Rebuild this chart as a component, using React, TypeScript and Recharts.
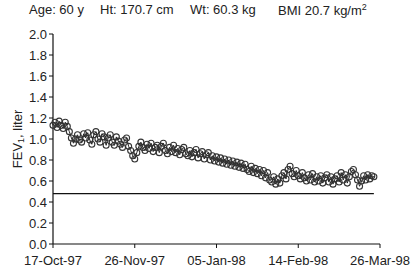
import React from 'react';
import { LineChart, Line, XAxis, YAxis, ReferenceLine } from 'recharts';

// FEV1 readings, one per day starting 17-Oct-97
const fev1 = [
  1.13, 1.16, 1.11, 1.17, 1.13, 1.1, 1.16, 1.12, 1.07, 1.01,
  0.96, 1.0, 1.04, 0.99, 0.97, 1.05, 1.01, 1.06, 0.99, 0.95,
  1.04, 1.07, 1.0, 0.97, 1.05, 1.02, 0.94, 1.01, 1.04, 0.97,
  0.94, 1.02, 0.98, 0.95, 0.92, 0.99, 1.01, 0.93, 0.89, 0.84,
  0.81, 0.87, 0.93, 0.97, 0.92, 0.89, 0.95, 0.91, 0.96, 0.88,
  0.92, 0.94, 0.87, 0.93, 0.96, 0.89, 0.86, 0.92, 0.88, 0.94,
  0.87, 0.91, 0.85, 0.9, 0.92, 0.86, 0.84, 0.89, 0.83, 0.87,
  0.9, 0.82, 0.86, 0.88, 0.81, 0.85, 0.87, 0.8, 0.84, 0.79,
  0.83, 0.78, 0.82, 0.77, 0.81, 0.76, 0.8, 0.75, 0.79, 0.74,
  0.78, 0.73, 0.77, 0.72, 0.76, 0.71, 0.69, 0.74, 0.68, 0.72,
  0.67, 0.71, 0.65, 0.7, 0.63, 0.68, 0.61, 0.59, 0.64, 0.57,
  0.62, 0.58, 0.65, 0.68, 0.62, 0.71, 0.74, 0.67, 0.64, 0.7,
  0.65, 0.62, 0.68, 0.63, 0.6, 0.66, 0.61, 0.67, 0.59, 0.64,
  0.6, 0.65, 0.58, 0.63, 0.66, 0.59, 0.64, 0.57, 0.62, 0.65,
  0.59, 0.68, 0.61, 0.66, 0.58, 0.64, 0.69, 0.71, 0.66, 0.61,
  0.55, 0.6, 0.65, 0.61, 0.66, 0.62, 0.65, 0.64,
];

const dateTicks = [0, 40, 80, 120, 160];
const dateLabels = ['17-Oct-97', '26-Nov-97', '05-Jan-98', '14-Feb-98', '26-Mar-98'];
const yTicks = [0, 0.2, 0.4, 0.6, 0.8, 1.0, 1.2, 1.4, 1.6, 1.8, 2.0];
const threshold = [0.48];
const thresholdEnd = 157;

const data = fev1.map((v, i) => ({ day: i, fev: v }));

const font = '"Liberation Sans", Arial, sans-serif';

const YLabel = () => (
  <text
    x={17}
    y={139}
    transform="rotate(-90 17 139)"
    textAnchor="middle"
    dominantBaseline="central"
    fontSize={13}
    fontFamily={font}
    fill="#222"
  >
    FEV
    <tspan fontSize={9} dy={4}>1</tspan>
    <tspan dy={-4}>, liter</tspan>
  </text>
);

const App: React.FC = () => {
  return (
    <div style={{ position: 'absolute', left: 0, top: 0, width: 420, height: 278, background: '#fff', fontFamily: font }}>
      <div style={{ position: 'absolute', top: 2, left: 0, width: 420, fontSize: 13, color: '#222', whiteSpace: 'pre' }}>
        <span style={{ position: 'absolute', left: 29 }}>Age: 60 y</span>
        <span style={{ position: 'absolute', left: 100 }}>Ht: 170.7 cm</span>
        <span style={{ position: 'absolute', left: 190 }}>Wt: 60.3 kg</span>
        <span style={{ position: 'absolute', left: 278 }}>
          BMI 20.7 kg/m<sup style={{ fontSize: 9 }}>2</sup>
        </span>
      </div>
      <LineChart width={420} height={278} data={data} margin={{ top: 34, right: 40, bottom: 4, left: 8 }}>
        <XAxis
          dataKey="day"
          type="number"
          domain={[0, 160]}
          ticks={dateTicks}
          tickFormatter={(v: number) => dateLabels[dateTicks.indexOf(v)]}
          axisLine={{ stroke: '#111', strokeWidth: 1.2 }}
          tickLine={{ stroke: '#111' }}
          tickSize={4}
          tick={{ fontSize: 13, fill: '#222', fontFamily: font, dy: 6 }}
          height={30}
          interval={0}
        />
        <YAxis
          type="number"
          domain={[0, 2]}
          ticks={yTicks}
          tickFormatter={(v: number) => v.toFixed(1)}
          axisLine={{ stroke: '#111', strokeWidth: 1.2 }}
          tickLine={{ stroke: '#111' }}
          tickSize={4}
          tick={{ fontSize: 13, fill: '#222', fontFamily: font }}
          width={45}
          interval={0}
          label={<YLabel />}
        />
        <ReferenceLine
          segment={[{ x: 0, y: threshold[0] }, { x: thresholdEnd, y: threshold[0] }]}
          stroke="#111"
          strokeWidth={1.2}
        />
        <Line
          type="linear"
          dataKey="fev"
          stroke="#222"
          strokeWidth={1}
          dot={{ r: 3, stroke: '#333', strokeWidth: 1.1, fill: 'none' }}
          isAnimationActive={false}
        />
      </LineChart>
    </div>
  );
};

export default App;
